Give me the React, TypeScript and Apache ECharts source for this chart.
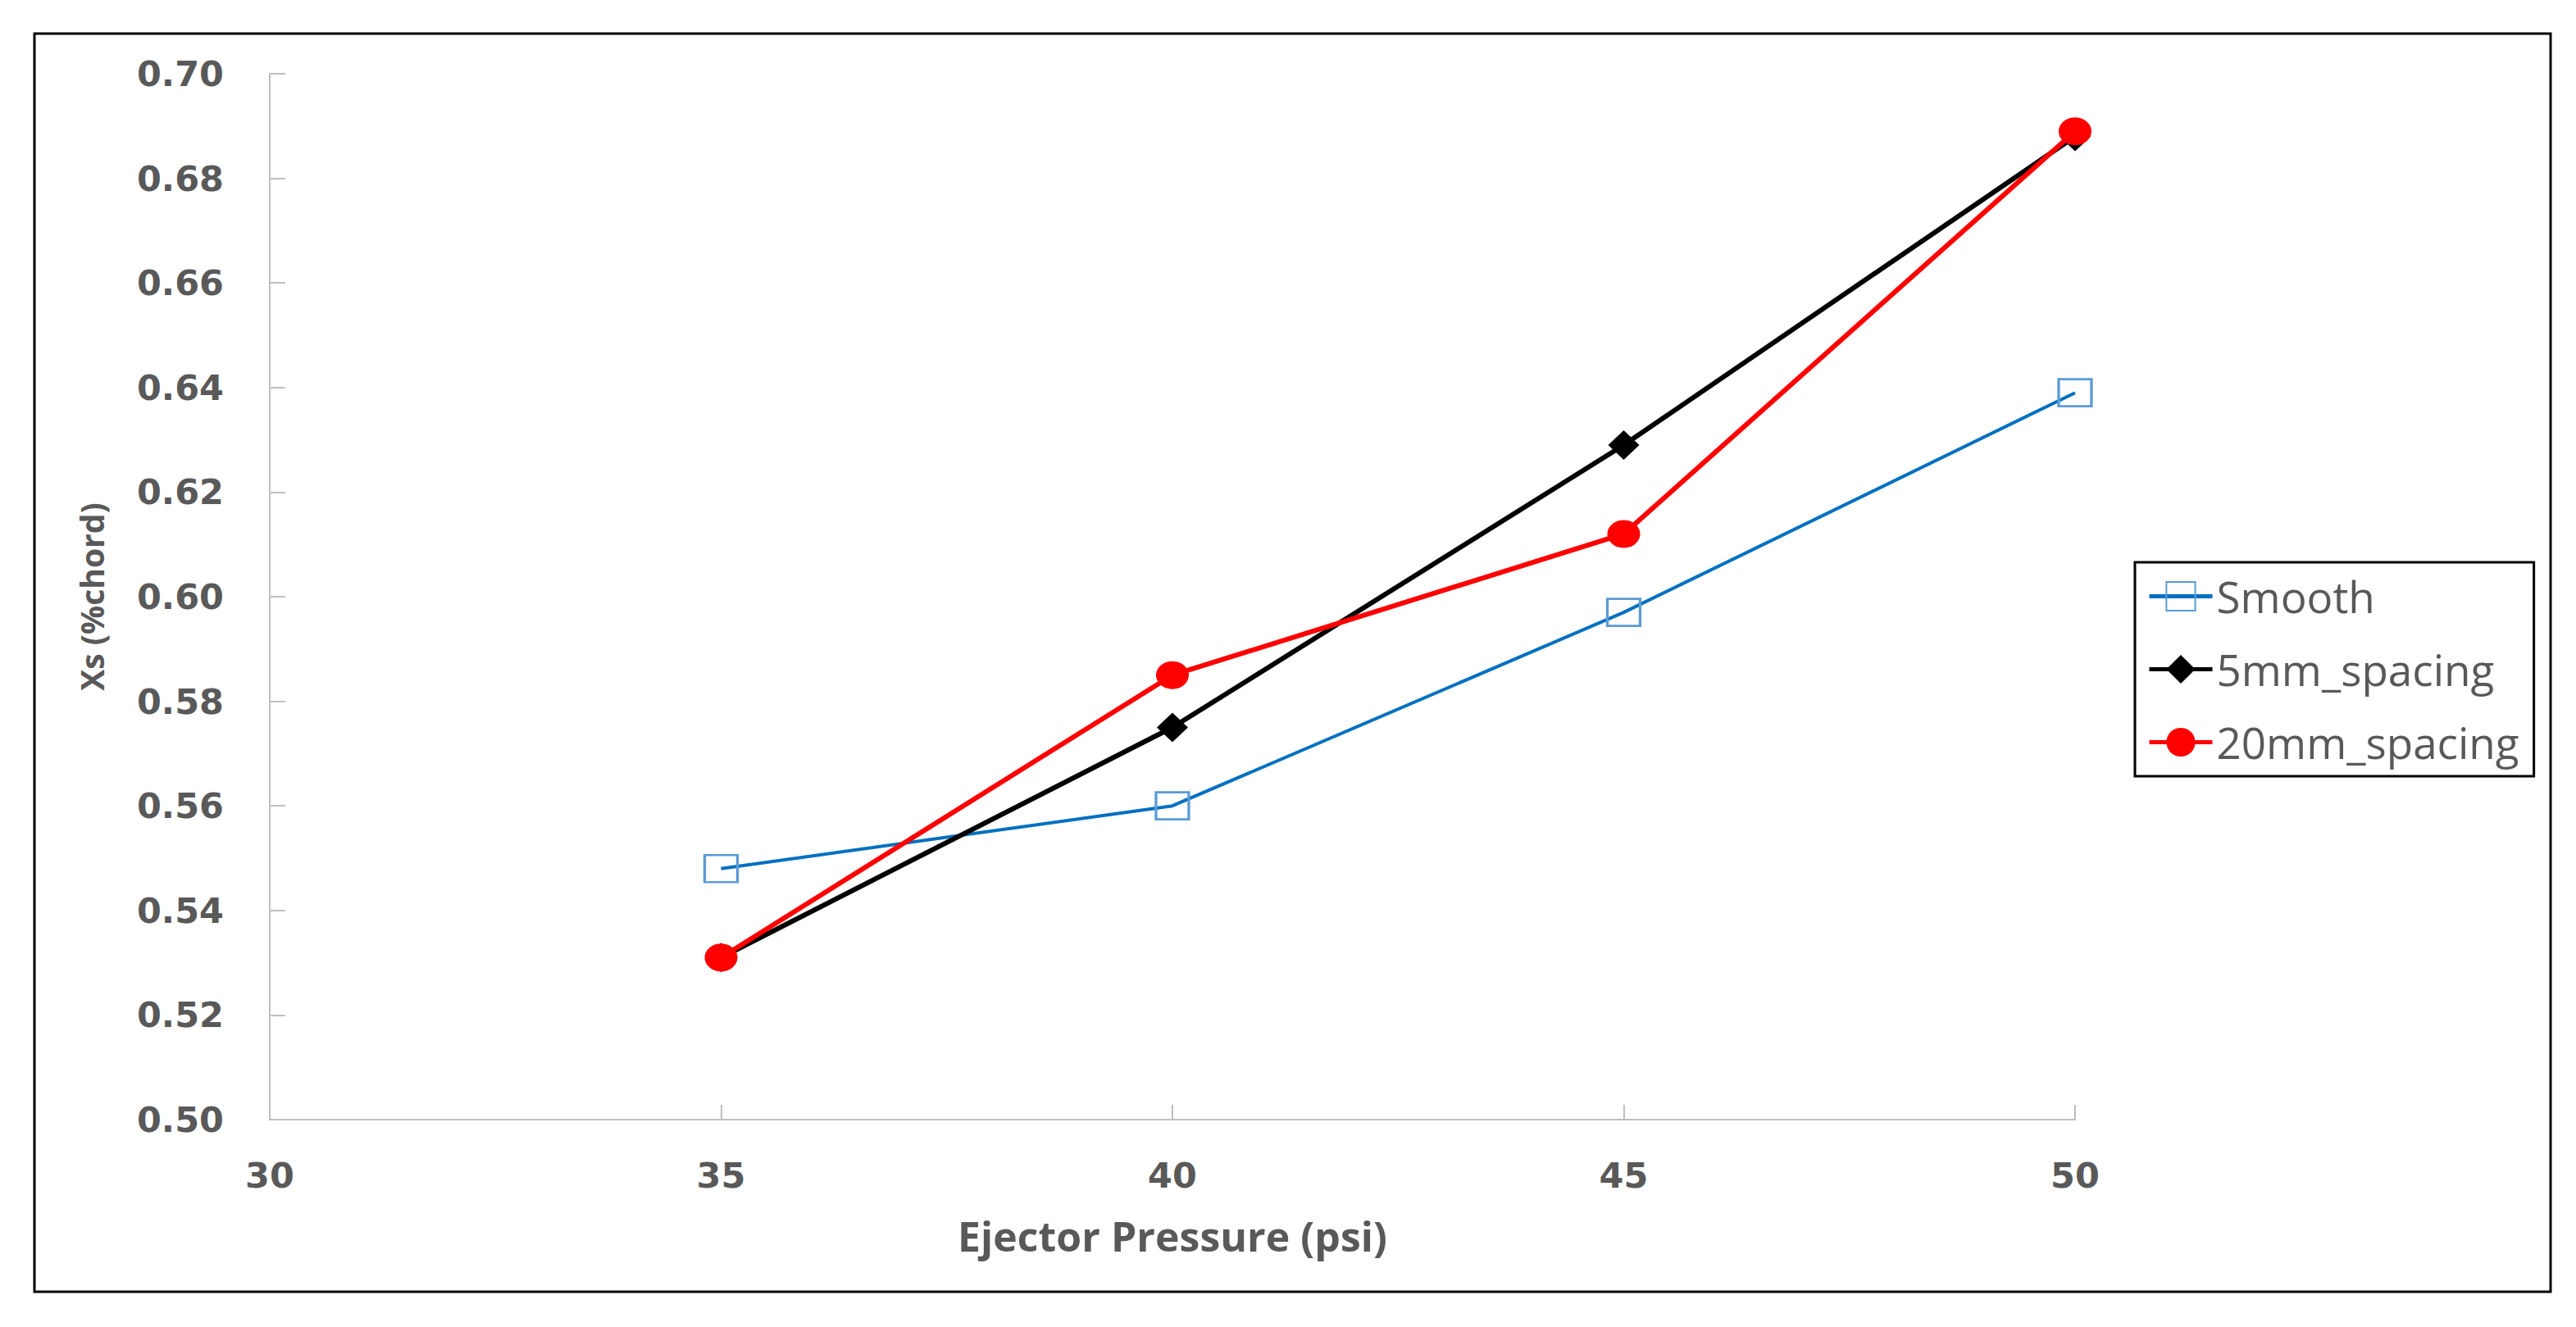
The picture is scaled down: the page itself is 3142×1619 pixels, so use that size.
import React, { useEffect, useRef } from "react";
import * as echarts from "echarts";

const pressures = [35, 40, 45, 50];
const smooth = [0.548, 0.56, 0.597, 0.639];
const spacing5mm = [0.531, 0.575, 0.629, 0.688];
const spacing20mm = [0.531, 0.585, 0.612, 0.689];
const seriesNames = ["Smooth", "5mm_spacing", "20mm_spacing"];

const pairs = (ys: number[]) => pressures.map((x, i) => [x, ys[i]]);

export default function App() {
  const ref = useRef<HTMLDivElement>(null);
  useEffect(() => {
    if (!ref.current) return;
    const chart = echarts.init(ref.current, null, { renderer: "svg" });
    const grey = "#595959";
    chart.setOption({
      animation: false,
      backgroundColor: "#ffffff",
      grid: { left: 329, right: 611, top: 90, bottom: 253 },
      graphic: [
        {
          type: "rect",
          shape: { x: 42, y: 41, width: 3069, height: 1535 },
          style: { fill: "none", stroke: "#000", lineWidth: 3 },
          silent: true,
        },
      ],
      legend: {
        orient: "vertical",
        left: 2604,
        top: 686,
        padding: [15, 18, 15, 15],
        borderColor: "#000",
        borderWidth: 3,
        itemWidth: 77,
        itemHeight: 44,
        itemGap: 36,
        data: seriesNames,
        lineStyle: { width: 5 },
        textStyle: { fontSize: 53, fontFamily: "Open Sans", color: grey },
      },
      xAxis: {
        type: "value",
        min: 30,
        max: 50,
        interval: 5,
        name: "Ejector Pressure (psi)",
        nameLocation: "middle",
        nameGap: 117,
        nameTextStyle: { fontSize: 50, fontWeight: "bold", fontFamily: "Open Sans", color: grey },
        axisLine: { show: true, lineStyle: { color: "#BFBFBF", width: 2 } },
        axisTick: { show: true, inside: true, length: 18, lineStyle: { color: "#BFBFBF", width: 2 } },
        splitLine: { show: false },
        axisLabel: { fontSize: 43, fontWeight: "bold", fontFamily: "DejaVu Sans", color: grey, margin: 46 },
      },
      yAxis: {
        type: "value",
        min: 0.5,
        max: 0.7,
        interval: 0.02,
        name: "Xs (%chord)",
        nameLocation: "middle",
        nameGap: 198,
        nameRotate: 90,
        nameTextStyle: { fontSize: 39, fontWeight: "bold", fontFamily: "Open Sans", color: grey },
        axisLine: { show: true, lineStyle: { color: "#BFBFBF", width: 2 } },
        axisTick: { show: true, inside: true, length: 19, lineStyle: { color: "#BFBFBF", width: 2 } },
        splitLine: { show: false },
        axisLabel: {
          fontSize: 43,
          fontWeight: "bold",
          fontFamily: "DejaVu Sans",
          color: grey,
          margin: 56,
          formatter: (v: number) => v.toFixed(2),
        },
      },
      series: [
        {
          name: seriesNames[0],
          type: "line",
          data: pairs(smooth),
          symbol: "rect",
          symbolSize: [40, 33],
          lineStyle: { color: "#0070C0", width: 4 },
          itemStyle: { color: "rgba(255,255,255,0)", borderColor: "#5B9BD5", borderWidth: 3 },
          color: "#0070C0",
        },
        {
          name: seriesNames[1],
          type: "line",
          data: pairs(spacing5mm),
          symbol: "diamond",
          symbolSize: [38, 36],
          lineStyle: { color: "#000000", width: 6 },
          itemStyle: { color: "#000000" },
        },
        {
          name: seriesNames[2],
          type: "line",
          data: pairs(spacing20mm),
          symbol: "circle",
          symbolSize: [40, 34],
          lineStyle: { color: "#FF0000", width: 6 },
          itemStyle: { color: "#FF0000" },
        },
      ],
    });
    return () => chart.dispose();
  }, []);
  return (
    <div
      ref={ref}
      style={{ position: "absolute", left: 0, top: 0, width: 3142, height: 1619 }}
    />
  );
}
